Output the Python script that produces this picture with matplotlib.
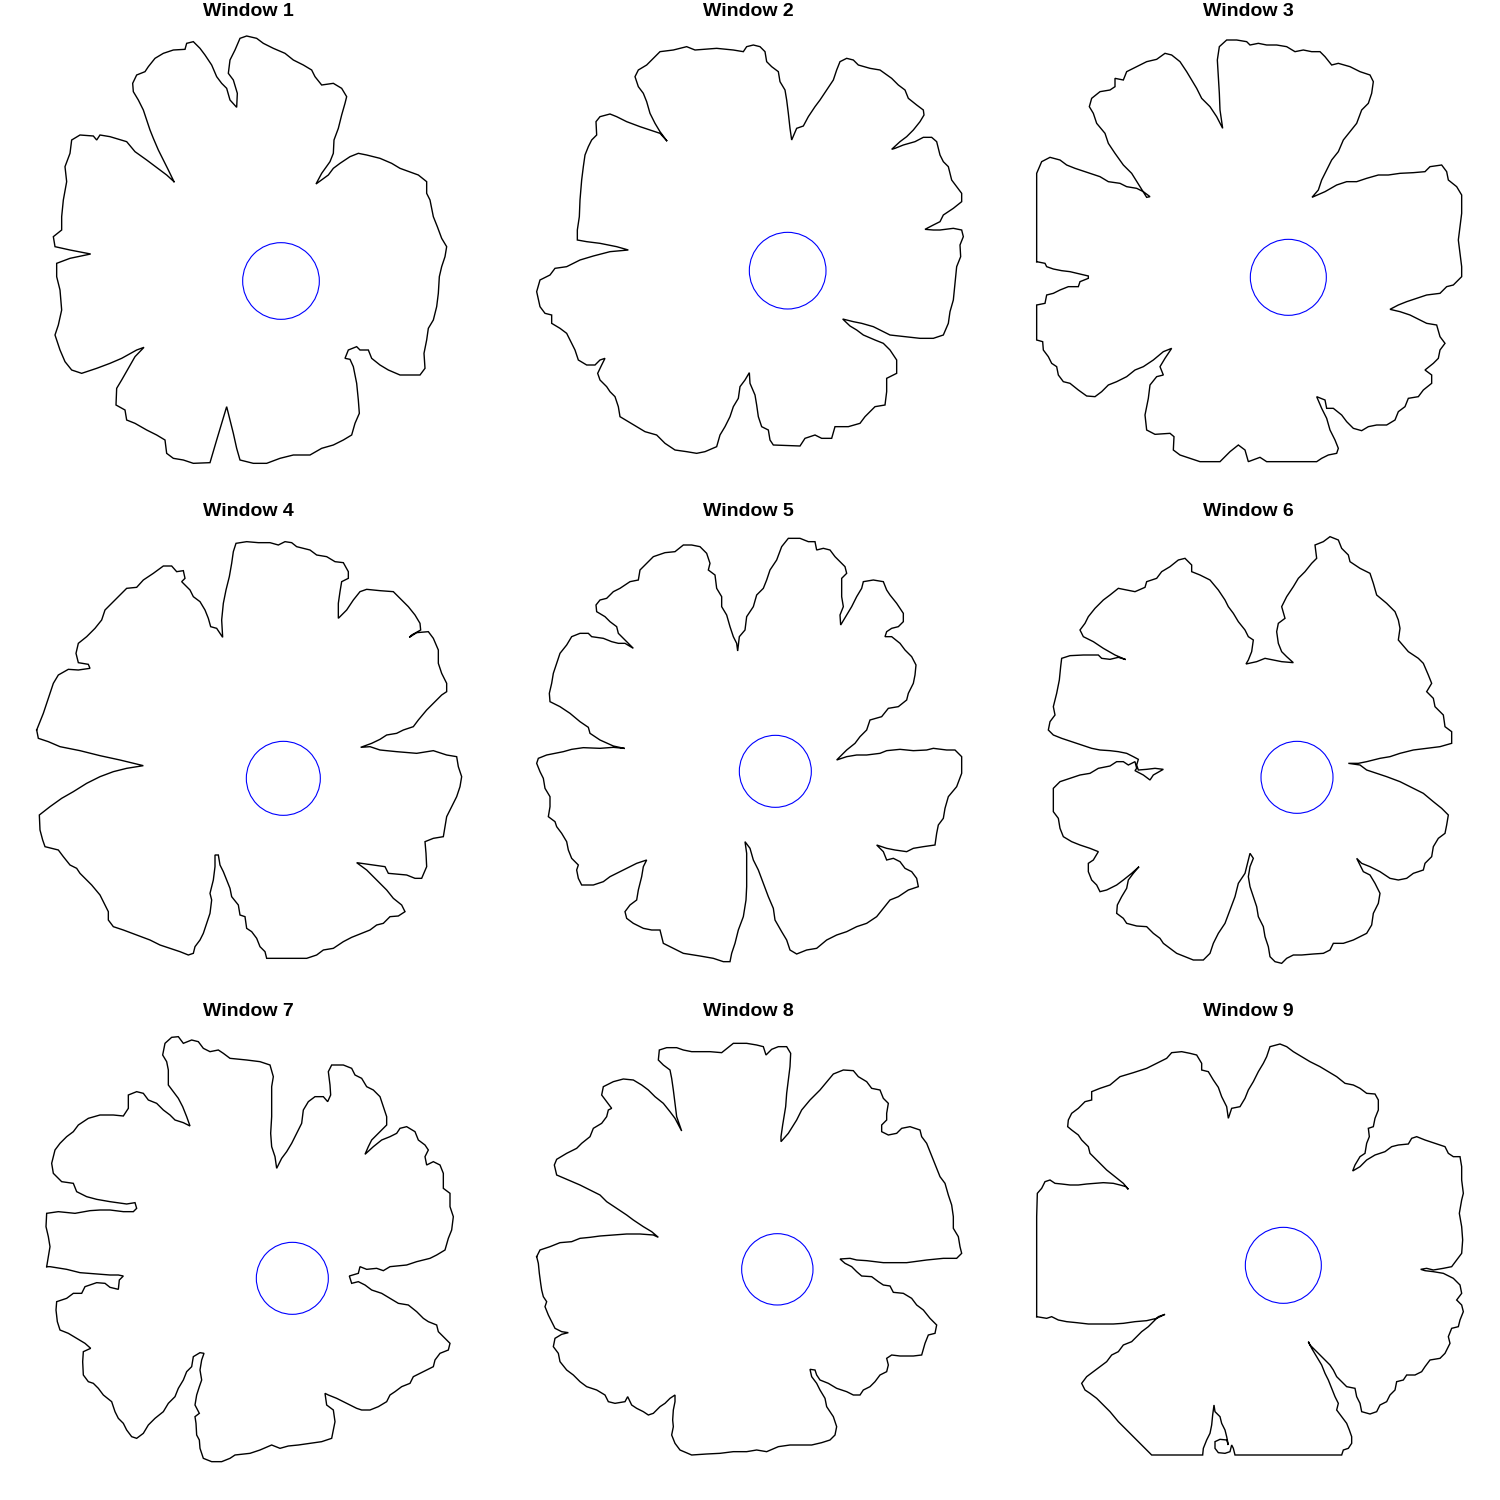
import matplotlib
matplotlib.use("Agg")
import matplotlib.pyplot as plt
from matplotlib.patches import Circle

# outlines, units: 1/3 px inside each 500x500 window, y down
w1 = [(522,545),(500,525),(440,480),(405,455),(380,425),(330,410),(300,405),(290,420),(280,408),(240,405),
      (215,420),(210,460),(195,500),(200,545),(190,600),(185,650),(185,690),(160,710),(165,740),(210,750),
      (272,762),(210,775),(170,790),(170,830),(180,870),(185,930),(175,975),(165,1005),(180,1050),(195,1085),
      (215,1110),(245,1120),(290,1105),(330,1090),(365,1075),(410,1050),(432,1042),(405,1070),(385,1105),
      (365,1140),(350,1165),(348,1215),(375,1230),(380,1260),(405,1270),(440,1290),(470,1305),(495,1320),
      (500,1360),(520,1375),(550,1380),(580,1390),(630,1388),(650,1320),(668,1260),(680,1220),(690,1260),
      (700,1300),(710,1345),(720,1380),(760,1390),(800,1390),(840,1375),(880,1365),(930,1365),(965,1345),
      (1000,1335),(1030,1320),(1055,1305),(1065,1270),(1078,1240),(1075,1200),(1070,1150),(1060,1100),
      (1050,1078),(1035,1075),(1045,1050),(1070,1040),(1080,1050),(1105,1050),(1115,1075),(1140,1095),
      (1165,1110),(1200,1125),(1260,1125),(1275,1105),(1272,1060),(1280,1020),(1285,985),(1300,960),
      (1310,920),(1315,880),(1318,830),(1325,800),(1335,770),(1340,740),(1325,715),(1312,680),(1300,650),
      (1290,600),(1280,580),(1280,545),(1255,525),(1200,505),(1175,490),(1140,475),(1100,465),(1075,460),
      (1050,470),(1020,490),(1000,505),(985,525),(948,552),(965,520),(990,485),(1000,460),(1002,420),
      (1015,385),(1025,345),(1035,310),(1040,290),(1025,265),(1000,250),(965,255),(945,230),(935,210),
      (910,195),(880,180),(855,160),(820,145),(790,130),(770,115),(740,108),(720,115),(705,150),(690,180),
      (685,220),(700,240),(712,280),(710,322),(690,300),(680,265),(665,250),(650,230),(635,195),(615,165),
      (600,145),(580,125),(560,130),(555,148),(520,150),(490,160),(465,175),(445,200),(435,215),(410,225),
      (398,250),(400,275),(415,300),(430,330),(440,360),(450,390),(460,415),(475,450),(490,480),(505,510)]

w2 = [(500,422),(480,400),(450,390),(420,380),(380,365),(350,350),(330,342),(300,350),(288,365),(290,405),
      (275,420),(265,440),(255,465),(250,500),(245,540),(240,600),(238,650),(232,690),(232,720),(260,725),
      (300,730),(350,740),(385,750),(330,755),(280,768),(240,780),(200,800),(165,805),(150,825),(120,840),
      (110,875),(120,920),(135,940),(155,945),(155,970),(180,985),(200,1000),(215,1030),(225,1050),
      (235,1080),(260,1095),(285,1095),(300,1080),(315,1075),(305,1095),(293,1120),(300,1140),(320,1160),
      (330,1175),(345,1190),(355,1220),(360,1250),(385,1265),(410,1280),(435,1295),(470,1305),(495,1330),
      (525,1350),(560,1355),(590,1360),(615,1355),(650,1340),(660,1305),(675,1280),(690,1250),(700,1220),
      (715,1195),(720,1160),(735,1140),(748,1118),(750,1150),(765,1185),(770,1215),(775,1250),(785,1280),
      (805,1290),(810,1320),(820,1335),(900,1338),(915,1315),(945,1305),(965,1315),(995,1315),(1005,1280),
      (1045,1280),(1080,1270),(1095,1250),(1110,1235),(1125,1220),(1155,1215),(1160,1175),(1160,1135),
      (1190,1120),(1190,1080),(1170,1050),(1150,1030),(1125,1020),(1090,1005),(1070,990),(1050,978),
      (1028,957),(1060,965),(1085,970),(1120,980),(1150,995),(1170,1005),(1215,1010),(1260,1015),(1300,1015),
      (1330,1005),(1345,970),(1350,935),(1360,900),(1365,850),(1370,800),(1382,770),(1380,735),(1390,710),
      (1385,690),(1360,685),(1320,690),(1300,690),(1275,688),(1300,675),(1320,665),(1330,645),(1360,625),
      (1385,605),(1385,580),(1370,560),(1355,540),(1345,500),(1330,485),(1320,465),(1310,425),(1295,412),
      (1270,412),(1245,425),(1210,435),(1185,445),(1175,448),(1200,425),(1220,410),(1240,390),(1260,365),
      (1272,345),(1270,330),(1250,315),(1225,295),(1215,270),(1195,255),(1175,235),(1140,210),(1110,205),
      (1075,195),(1060,180),(1040,175),(1020,185),(1010,210),(1000,240),(980,270),(960,300),(945,320),
      (925,350),(910,378),(890,385),(875,420),(870,385),(865,340),(860,300),(855,270),(840,245),(835,215),
      (815,200),(800,185),(795,155),(780,140),(760,135),(740,140),(730,155),(700,150),(650,145),(585,150),
      (560,140),(520,150),(480,155),(460,175),(440,195),(415,210),(405,230),(415,260),(430,280),(440,305),
      (450,340),(465,370),(480,395)]

w3 = [(110,785),(110,650),(110,520),(125,485),(150,472),(180,480),(200,495),(225,505),(270,520),(300,530),
      (325,545),(360,550),(380,560),(410,565),(430,575),(450,590),(440,592),(420,560),(395,520),(370,495),
      (345,460),(325,430),(315,400),(290,370),(280,340),(268,320),(275,295),(300,275),(330,270),(345,260),
      (345,235),(370,240),(380,215),(410,200),(440,185),(470,178),(495,160),(515,165),(540,185),(560,215),
      (575,240),(590,265),(605,295),(630,320),(650,350),(668,385),(660,330),(658,280),(655,230),(652,180),
      (658,140),(680,120),(710,120),(740,125),(750,135),(775,130),(800,135),(830,135),(860,140),(885,155),
      (910,150),(935,155),(960,155),(975,170),(995,195),(1015,190),(1050,200),(1080,215),(1110,225),
      (1120,245),(1115,280),(1105,310),(1085,330),(1070,370),(1050,395),(1030,420),(1015,455),(995,480),
      (980,510),(965,540),(955,570),(936,592),(975,575),(1010,555),(1040,545),(1070,545),(1100,535),
      (1135,525),(1165,525),(1200,520),(1240,518),(1275,515),(1290,500),(1325,495),(1340,515),(1345,540),
      (1370,560),(1385,585),(1385,640),(1380,680),(1375,720),(1380,760),(1385,800),(1385,830),(1360,855),
      (1340,860),(1320,880),(1280,885),(1250,895),(1220,905),(1195,915),(1170,928),(1200,935),(1230,945),
      (1260,960),(1280,970),(1310,975),(1320,1010),(1335,1030),(1320,1050),(1315,1075),(1300,1090),
      (1275,1110),(1295,1125),(1295,1150),(1270,1170),(1255,1190),(1225,1195),(1215,1220),(1195,1235),
      (1185,1260),(1160,1275),(1130,1275),(1105,1280),(1085,1292),(1060,1285),(1040,1265),(1025,1245),
      (1000,1225),(980,1225),(975,1200),(950,1190),(965,1225),(980,1255),(990,1290),(1005,1320),
      (1015,1345),(1010,1360),(985,1365),(965,1375),(950,1385),(870,1385),(800,1385),(780,1372),(745,1385),
      (735,1350),(715,1335),(690,1355),(660,1385),(600,1385),(570,1375),(540,1365),(520,1350),(522,1310),
      (510,1300),(465,1303),(440,1290),(435,1245),(445,1195),(450,1155),(470,1130),(490,1125),(480,1100),
      (495,1075),(515,1045),(490,1055),(460,1080),(430,1100),(405,1110),(380,1130),(350,1145),(325,1155),
      (305,1175),(285,1190),(260,1188),(235,1170),(210,1150),(190,1145),(175,1125),(170,1100),(155,1090),
      (145,1070),(130,1050),(128,1025),(110,1020),(110,960),(110,915),(135,910),(140,885),(160,880),
      (180,870),(205,860),(235,860),(240,845),(265,835),(265,828),(240,822),(210,815),(185,812),(160,807),
      (140,800),(135,790)]

w4 = [(110,690),(118,670),(130,640),(140,610),(150,580),(160,550),(175,525),(205,508),(235,510),(270,505),
      (265,493),(235,488),(228,460),(235,430),(260,410),(285,385),(305,360),(315,330),(345,300),(380,265),
      (410,262),(430,240),(460,220),(490,198),(515,198),(530,215),(550,212),(555,235),(545,245),(570,270),
      (580,290),(600,305),(615,330),(625,355),(632,380),(650,385),(668,412),(665,360),(670,310),(678,270),
      (688,230),(695,190),(700,155),(708,130),(740,125),(775,128),(810,128),(835,135),(855,125),(875,128),
      (890,140),(930,150),(950,165),(980,170),(1005,185),(1030,188),(1045,215),(1045,235),(1025,245),
      (1020,275),(1015,310),(1015,355),(1040,330),(1060,300),(1080,275),(1100,268),(1140,272),(1180,275),
      (1200,295),(1225,320),(1245,345),(1260,370),(1262,390),(1235,405),(1228,412),(1250,398),(1285,395),
      (1300,415),(1315,450),(1315,490),(1325,520),(1340,550),(1340,575),(1325,585),(1300,610),(1280,630),
      (1255,660),(1240,680),(1210,690),(1190,700),(1160,705),(1140,718),(1115,730),(1082,742),(1110,740),
      (1140,750),(1190,755),(1250,760),(1300,752),(1340,765),(1370,770),(1375,800),(1385,830),(1380,860),
      (1370,890),(1355,920),(1340,950),(1335,980),(1330,1010),(1300,1015),(1275,1025),(1278,1060),
      (1280,1100),(1265,1135),(1245,1135),(1220,1125),(1165,1120),(1155,1100),(1120,1095),(1085,1090),
      (1070,1088),(1100,1110),(1130,1140),(1160,1170),(1180,1195),(1205,1215),(1215,1235),(1195,1248),
      (1170,1250),(1150,1270),(1130,1275),(1110,1290),(1085,1300),(1055,1312),(1030,1325),(1000,1345),
      (970,1350),(950,1365),(920,1375),(800,1375),(795,1355),(780,1340),(770,1315),(755,1295),(740,1285),
      (735,1250),(720,1245),(715,1215),(695,1190),(690,1165),(680,1140),(670,1115),(660,1095),(655,1065),
      (645,1065),(645,1100),(640,1140),(630,1180),(635,1200),(630,1240),(620,1270),(610,1300),(600,1320),
      (585,1340),(580,1360),(565,1365),(540,1355),(510,1345),(480,1335),(450,1320),(410,1305),(370,1290),
      (340,1280),(325,1260),(325,1235),(315,1215),(300,1185),(275,1155),(255,1135),(240,1120),(230,1105),
      (210,1095),(190,1070),(175,1050),(135,1040),(128,1020),(120,990),(118,945),(150,920),(185,895),
      (220,875),(260,850),(300,830),(340,815),(380,805),(430,797),(360,780),(300,767),(240,752),(180,740),
      (145,725),(115,715)]

w5 = [(372,745),(340,738),(300,720),(270,700),(265,682),(240,665),(210,640),(180,620),(150,605),(148,580),
      (155,550),(160,520),(170,490),(180,460),(200,435),(215,410),(240,400),(265,400),(275,410),(310,415),
      (335,425),(355,430),(375,430),(400,445),(375,420),(355,400),(350,380),(330,365),(315,350),(290,335),
      (288,315),(300,300),(320,295),(340,275),(360,265),(390,245),(415,240),(420,210),(440,190),(460,170),
      (495,158),(525,155),(550,135),(575,135),(600,140),(620,160),(630,190),(625,210),(645,225),(650,265),
      (665,290),(665,320),(680,345),(690,380),(700,410),(710,430),(713,453),(718,410),(735,390),(740,350),
      (760,320),(770,285),(790,265),(800,240),(810,210),(830,180),(845,140),(865,115),(900,115),(925,125),
      (945,125),(950,150),(970,145),(990,150),(1005,170),(1020,185),(1035,200),(1040,220),(1025,235),
      (1025,265),(1025,290),(1030,320),(1020,345),(1022,375),(1040,345),(1055,320),(1070,290),(1085,265),
      (1090,245),(1120,240),(1150,245),(1160,270),(1170,285),(1190,310),(1210,340),(1210,365),(1195,380),
      (1175,385),(1160,395),(1155,410),(1175,410),(1200,430),(1215,450),(1235,470),(1248,495),(1245,525),
      (1240,550),(1225,580),(1220,600),(1195,620),(1165,625),(1145,650),(1110,660),(1100,690),(1080,710),
      (1065,730),(1040,750),(1010,780),(1040,770),(1070,765),(1100,765),(1140,760),(1160,752),(1200,748),
      (1240,752),(1280,750),(1300,745),(1340,750),(1365,750),(1385,770),(1385,820),(1370,860),(1345,890),
      (1335,925),(1330,955),(1315,975),(1310,1000),(1305,1035),(1270,1040),(1240,1045),(1220,1055),
      (1185,1050),(1160,1045),(1130,1035),(1150,1055),(1160,1080),(1180,1075),(1200,1085),(1215,1105),
      (1235,1115),(1250,1135),(1255,1160),(1225,1170),(1195,1190),(1170,1200),(1150,1225),(1130,1250),
      (1100,1270),(1070,1280),(1040,1295),(1010,1305),(980,1320),(950,1345),(920,1350),(890,1362),
      (870,1350),(860,1320),(845,1295),(825,1260),(820,1225),(805,1190),(790,1150),(775,1110),(760,1080),
      (750,1045),(735,1025),(740,1060),(740,1110),(740,1160),(738,1200),(730,1250),(715,1290),(705,1330),
      (695,1360),(690,1385),(670,1385),(640,1375),(600,1368),(550,1360),(520,1345),(490,1330),(480,1290),
      (455,1290),(430,1285),(400,1270),(380,1255),(375,1235),(390,1215),(410,1200),(415,1170),(425,1130),
      (430,1100),(440,1080),(410,1090),(380,1105),(350,1120),(330,1130),(310,1145),(280,1155),(245,1155),
      (235,1135),(230,1110),(235,1095),(215,1075),(205,1050),(200,1025),(185,1000),(170,980),(165,965),
      (145,950),(150,920),(150,890),(135,865),(130,835),(120,815),(110,790),(115,775),(140,765),(165,760),
      (190,755),(215,748),(250,743),(300,745),(340,742)]

w6 = [(375,478),(345,465),(310,445),(280,425),(250,410),(240,390),(255,370),(265,350),(285,325),(310,300),
      (330,285),(355,265),(380,270),(405,275),(435,262),(440,245),(470,235),(485,215),(510,200),(535,180),
      (555,175),(575,195),(575,215),(600,225),(630,240),(655,270),(675,300),(685,320),(700,340),(715,365),
      (735,390),(745,410),(760,420),(755,455),(745,480),(738,492),(770,485),(795,475),(820,480),(845,485),
      (880,488),(860,470),(845,455),(835,430),(830,395),(835,370),(855,355),(845,320),(860,290),(880,260),
      (895,235),(915,215),(935,190),(950,175),(945,135),(970,125),(990,110),(1015,120),(1025,145),
      (1045,165),(1050,185),(1080,205),(1110,220),(1120,250),(1130,285),(1160,310),(1185,335),(1195,360),
      (1200,385),(1195,420),(1225,455),(1255,475),(1270,490),(1285,525),(1295,550),(1280,575),(1300,595),
      (1305,620),(1330,645),(1335,680),(1355,695),(1355,730),(1320,740),(1280,745),(1240,750),(1200,760),
      (1170,770),(1140,775),(1100,785),(1075,790),(1045,790),(1080,795),(1100,810),(1130,820),(1160,830),
      (1200,845),(1240,865),(1270,880),(1300,905),(1325,925),(1345,945),(1340,975),(1335,1000),(1315,1015),
      (1300,1040),(1295,1070),(1275,1090),(1270,1110),(1240,1120),(1220,1135),(1195,1140),(1170,1135),
      (1140,1115),(1110,1100),(1085,1090),(1070,1075),(1080,1095),(1090,1115),(1110,1125),(1125,1150),
      (1140,1180),(1135,1210),(1120,1240),(1115,1275),(1100,1300),(1080,1310),(1060,1320),(1030,1330),
      (1000,1330),(990,1350),(970,1360),(940,1362),(905,1365),(880,1365),(860,1375),(845,1390),(825,1385),
      (810,1370),(805,1340),(795,1310),(790,1280),(775,1250),(770,1220),(760,1190),(750,1160),(745,1130),
      (750,1100),(760,1075),(750,1060),(745,1080),(735,1120),(715,1150),(705,1190),(690,1230),(675,1270),
      (655,1300),(640,1330),(630,1360),(610,1380),(580,1380),(555,1370),(530,1360),(510,1345),(490,1330),
      (480,1315),(460,1300),(440,1280),(410,1278),(380,1270),(370,1255),(350,1240),(352,1215),(365,1190),
      (380,1165),(385,1140),(400,1120),(417,1100),(395,1120),(370,1140),(350,1155),(320,1170),(300,1175),
      (290,1155),(275,1140),(265,1115),(265,1090),(280,1080),(295,1055),(270,1045),(240,1035),(215,1025),
      (190,1010),(180,985),(175,955),(160,935),(160,890),(160,865),(180,845),(210,835),(240,825),(270,820),
      (295,805),(330,798),(350,785),(370,785),(385,795),(405,785),(410,805),(405,812),(430,825),(450,840),
      (460,825),(490,808),(465,805),(440,808),(415,810),(410,795),(415,778),(400,770),(380,760),(355,755),
      (330,752),(300,750),(275,745),(245,735),(215,725),(185,715),(160,705),(145,690),(150,665),(165,645),
      (160,620),(170,580),(178,540),(182,500),(185,475),(210,467),(250,465),(295,465),(305,475),(330,478),
      (355,472)]

w7 = [(140,800),(145,770),(150,740),(145,710),(138,680),(140,640),(175,635),(225,640),(270,632),(300,630),
      (330,630),(370,635),(400,635),(410,625),(405,608),(380,612),(330,605),(290,598),(260,590),(230,575),
      (220,550),(185,545),(160,520),(155,490),(165,450),(180,430),(200,410),(220,395),(235,375),(265,355),
      (300,345),(340,345),(370,348),(385,325),(385,285),(410,275),(430,280),(445,300),(470,310),(490,330),
      (510,345),(525,360),(550,368),(570,378),(560,350),(548,320),(535,295),(520,275),(505,255),(505,210),
      (500,185),(488,165),(495,130),(515,112),(535,110),(550,130),(575,120),(595,125),(610,145),(630,155),
      (655,150),(670,160),(690,175),(740,180),(780,185),(810,195),(820,230),(815,260),(815,300),(815,350),
      (812,400),(815,440),(825,470),(830,505),(845,475),(860,455),(875,430),(890,400),(905,370),(910,330),
      (925,305),(945,290),(970,290),(983,305),(992,285),(990,255),(985,215),(995,195),(1030,195),(1055,205),
      (1065,225),(1085,235),(1100,260),(1120,270),(1140,290),(1150,320),(1160,350),(1160,375),(1135,400),
      (1115,420),(1105,440),(1095,463),(1120,440),(1145,420),(1170,410),(1190,400),(1200,385),(1220,380),
      (1245,395),(1255,420),(1275,435),(1285,450),(1275,470),(1280,495),(1300,485),(1320,495),(1330,520),
      (1330,565),(1350,580),(1350,620),(1360,650),(1355,690),(1345,715),(1335,750),(1310,765),(1290,775),
      (1250,785),(1220,795),(1170,800),(1150,812),(1130,805),(1100,808),(1080,800),(1075,820),(1048,828),
      (1055,850),(1075,845),(1095,855),(1115,870),(1145,880),(1170,895),(1195,910),(1225,915),(1250,935),
      (1270,955),(1285,965),(1310,975),(1315,995),(1335,1015),(1350,1030),(1345,1050),(1320,1060),
      (1305,1080),(1300,1100),(1270,1115),(1240,1130),(1230,1150),(1205,1160),(1185,1175),(1170,1185),
      (1160,1205),(1135,1220),(1110,1230),(1085,1230),(1070,1225),(1050,1215),(1030,1205),(1010,1195),
      (985,1185),(975,1180),(980,1215),(1000,1230),(1005,1265),(1000,1290),(995,1315),(965,1325),(930,1330),
      (895,1335),(865,1338),(840,1345),(815,1335),(780,1350),(750,1360),(705,1365),(690,1375),(665,1385),
      (635,1385),(610,1375),(600,1345),(598,1320),(590,1305),(588,1270),(585,1250),(598,1240),(585,1215),
      (590,1185),(598,1160),(605,1140),(600,1110),(605,1080),(612,1060),(600,1058),(580,1070),(575,1100),
      (560,1115),(550,1140),(535,1165),(525,1190),(505,1210),(490,1235),(465,1255),(445,1275),(430,1300),
      (410,1315),(395,1310),(380,1290),(370,1270),(355,1255),(345,1235),(335,1205),(310,1185),(295,1165),
      (280,1150),(265,1145),(250,1125),(248,1085),(250,1055),(272,1045),(255,1030),(230,1015),(205,1000),
      (180,990),(172,965),(168,930),(170,905),(200,895),(220,880),(245,880),(255,860),(290,848),(315,850),
      (330,862),(355,868),(358,840),(370,828),(355,825),(330,825),(290,822),(240,818),(200,808),(150,800)]

w8 = [(110,770),(120,750),(150,740),(180,728),(215,725),(240,715),(270,712),(300,708),(340,705),(380,702),
      (420,702),(460,705),(475,712),(455,695),(430,680),(400,660),(380,645),(350,625),(320,605),(300,585),
      (270,570),(240,555),(205,540),(170,525),(163,495),(170,478),(200,460),(230,445),(245,430),(270,410),
      (280,385),(305,370),(320,350),(325,330),(335,325),(320,305),(305,285),(310,260),(340,245),(370,237),
      (400,240),(425,255),(445,270),(465,290),(490,310),(510,335),(525,355),(545,393),(530,350),(525,310),
      (520,270),(515,235),(510,210),(490,195),(475,180),(478,150),(500,143),(530,143),(550,150),(575,155),
      (600,155),(630,155),(665,158),(700,130),(740,130),(770,135),(790,140),(798,165),(815,148),(835,140),
      (860,140),(872,160),(870,200),(865,240),(860,280),(857,320),(852,350),(848,375),(843,410),(843,425),
      (865,400),(890,360),(905,330),(930,300),(960,270),(985,240),(1000,222),(1030,210),(1060,212),
      (1075,230),(1100,245),(1115,265),(1140,270),(1150,295),(1165,310),(1160,340),(1160,360),(1145,375),
      (1145,395),(1165,405),(1190,400),(1205,385),(1230,380),(1260,390),(1265,410),(1280,430),(1290,455),
      (1300,480),(1310,505),(1320,530),(1335,550),(1345,585),(1355,615),(1360,650),(1360,685),(1375,710),
      (1380,740),(1385,760),(1370,775),(1330,775),(1280,780),(1220,788),(1150,788),(1100,782),(1070,780),
      (1050,775),(1020,777),(1035,790),(1055,800),(1070,815),(1085,828),(1115,830),(1135,845),(1150,855),
      (1170,858),(1180,877),(1210,880),(1235,895),(1250,915),(1270,930),(1290,955),(1310,975),(1305,1000),
      (1285,1005),(1275,1030),(1265,1065),(1240,1068),(1200,1068),(1175,1065),(1160,1075),(1165,1095),
      (1160,1115),(1140,1125),(1125,1145),(1110,1160),(1090,1170),(1080,1185),(1060,1185),(1040,1175),
      (1010,1165),(985,1150),(960,1140),(950,1125),(945,1110),(930,1108),(935,1130),(950,1150),(960,1170),
      (975,1195),(980,1220),(990,1235),(1000,1250),(1010,1280),(1005,1305),(990,1320),(965,1328),(935,1335),
      (905,1335),(870,1335),(835,1340),(800,1355),(770,1350),(740,1355),(700,1355),(660,1360),(620,1362),
      (575,1365),(540,1350),(525,1330),(515,1305),(520,1280),(518,1260),(520,1230),(525,1205),(525,1185),
      (510,1195),(495,1210),(480,1220),(460,1240),(445,1245),(430,1235),(410,1225),(395,1215),(383,1190),
      (375,1205),(345,1210),(325,1205),(315,1185),(290,1170),(260,1160),(240,1145),(220,1125),(200,1110),
      (180,1085),(175,1060),(160,1040),(165,1015),(185,1003),(205,998),(185,995),(165,985),(155,965),
      (145,945),(135,920),(140,905),(130,890),(125,870),(122,850),(118,820),(115,790)]

w9 = [(110,950),(110,800),(110,650),(112,580),(125,565),(135,545),(150,540),(165,550),(185,552),(210,555),
      (235,555),(260,552),(285,550),(310,548),(340,550),(360,555),(378,560),(385,568),(370,550),(345,530),
      (320,510),(295,485),(270,460),(265,440),(245,420),(235,405),(215,390),(203,380),(205,360),(215,340),
      (235,325),(255,305),(275,300),(275,275),(300,265),(330,255),(360,230),(400,218),(440,205),(470,190),
      (500,175),(515,158),(545,155),(570,160),(590,165),(605,190),(605,210),(625,215),(640,240),(655,262),
      (665,290),(680,320),(685,355),(695,325),(720,320),(735,295),(745,270),(760,245),(775,215),(790,190),
      (800,170),(810,140),(840,132),(860,140),(880,155),(905,170),(930,185),(960,200),(985,215),(1010,230),
      (1035,250),(1060,255),(1080,265),(1100,280),(1125,282),(1135,300),(1135,330),(1125,355),(1120,380),
      (1105,385),(1108,410),(1100,430),(1095,460),(1080,470),(1065,495),(1058,513),(1080,500),(1100,480),
      (1125,465),(1155,455),(1175,440),(1195,435),(1225,432),(1235,415),(1250,410),(1275,420),(1305,430),
      (1335,440),(1345,460),(1360,470),(1380,470),(1385,500),(1385,540),(1390,580),(1385,600),(1378,640),
      (1385,680),(1388,720),(1385,760),(1370,780),(1355,800),(1330,805),(1300,810),(1280,805),(1262,808),
      (1275,812),(1300,815),(1330,820),(1360,835),(1380,855),(1385,880),(1370,900),(1385,915),(1390,935),
      (1380,960),(1375,980),(1355,985),(1345,1010),(1350,1030),(1335,1060),(1320,1075),(1290,1080),
      (1275,1100),(1265,1115),(1245,1125),(1220,1125),(1210,1140),(1190,1145),(1185,1170),(1170,1185),
      (1160,1205),(1140,1215),(1130,1235),(1110,1242),(1085,1235),(1080,1210),(1070,1190),(1065,1165),
      (1040,1160),(1025,1145),(1010,1130),(1000,1110),(990,1095),(975,1080),(960,1065),(945,1050),
      (930,1035),(925,1025),(935,1045),(950,1070),(965,1095),(975,1120),(985,1140),(995,1165),(1005,1190),
      (1015,1210),(1010,1230),(1025,1250),(1040,1270),(1048,1290),(1055,1310),(1055,1330),(1045,1345),
      (1030,1350),(1025,1365),(900,1365),(800,1365),(705,1365),(700,1345),(695,1335),(690,1355),(675,1360),
      (655,1358),(645,1345),(645,1325),(660,1318),(680,1320),(685,1335),(680,1310),(675,1290),(665,1270),
      (660,1250),(645,1235),(642,1215),(638,1245),(635,1275),(630,1300),(620,1320),(610,1345),(608,1365),
      (455,1365),(435,1345),(410,1320),(385,1295),(355,1265),(330,1235),(305,1210),(290,1195),(270,1180),
      (255,1170),(245,1150),(260,1130),(280,1115),(300,1100),(320,1085),(335,1065),(355,1055),(370,1035),
      (395,1025),(410,1010),(425,995),(445,980),(460,965),(475,950),(495,943),(470,955),(440,962),(405,965),
      (370,970),(340,972),(300,972),(265,972),(230,968),(200,965),(175,960),(155,950),(140,955)]

outlines = [w1, w2, w3, w4, w5, w6, w7, w8, w9]
titles = ["Window %d" % i for i in range(1, 10)]

# blue circle per window: centre x, centre y, radius
circle_x = [843, 863, 865, 850, 826, 891, 877, 832, 850]
circle_y = [843, 812, 832, 835, 814, 832, 835, 808, 796]
circle_r = [115, 115, 114, 111, 108, 108, 108, 107, 114]

plt.rcParams['font.family'] = ['Liberation Sans', 'DejaVu Sans']

fig = plt.figure(figsize=(15, 15), dpi=100)
fig.patch.set_facecolor('white')

for i, pts in enumerate(outlines):
    row, col = divmod(i, 3)
    ax = fig.add_axes([col / 3, 1 - (row + 1) / 3, 1 / 3, 1 / 3])
    ax.set_xlim(0, 1500)
    ax.set_ylim(1500, 0)
    ax.axis('off')

    xs = [p[0] for p in pts] + [pts[0][0]]
    ys = [p[1] for p in pts] + [pts[0][1]]
    ax.plot(xs, ys, color='black', lw=1.0, solid_joinstyle='miter')

    ax.add_patch(Circle((circle_x[i], circle_y[i]), circle_r[i],
                        fill=False, edgecolor='blue', lw=0.8))

    ax.text(745, 36, titles[i], ha='center', va='center',
            fontsize=14, fontweight='bold')

fig.savefig("out.png", dpi=100, facecolor='white')
